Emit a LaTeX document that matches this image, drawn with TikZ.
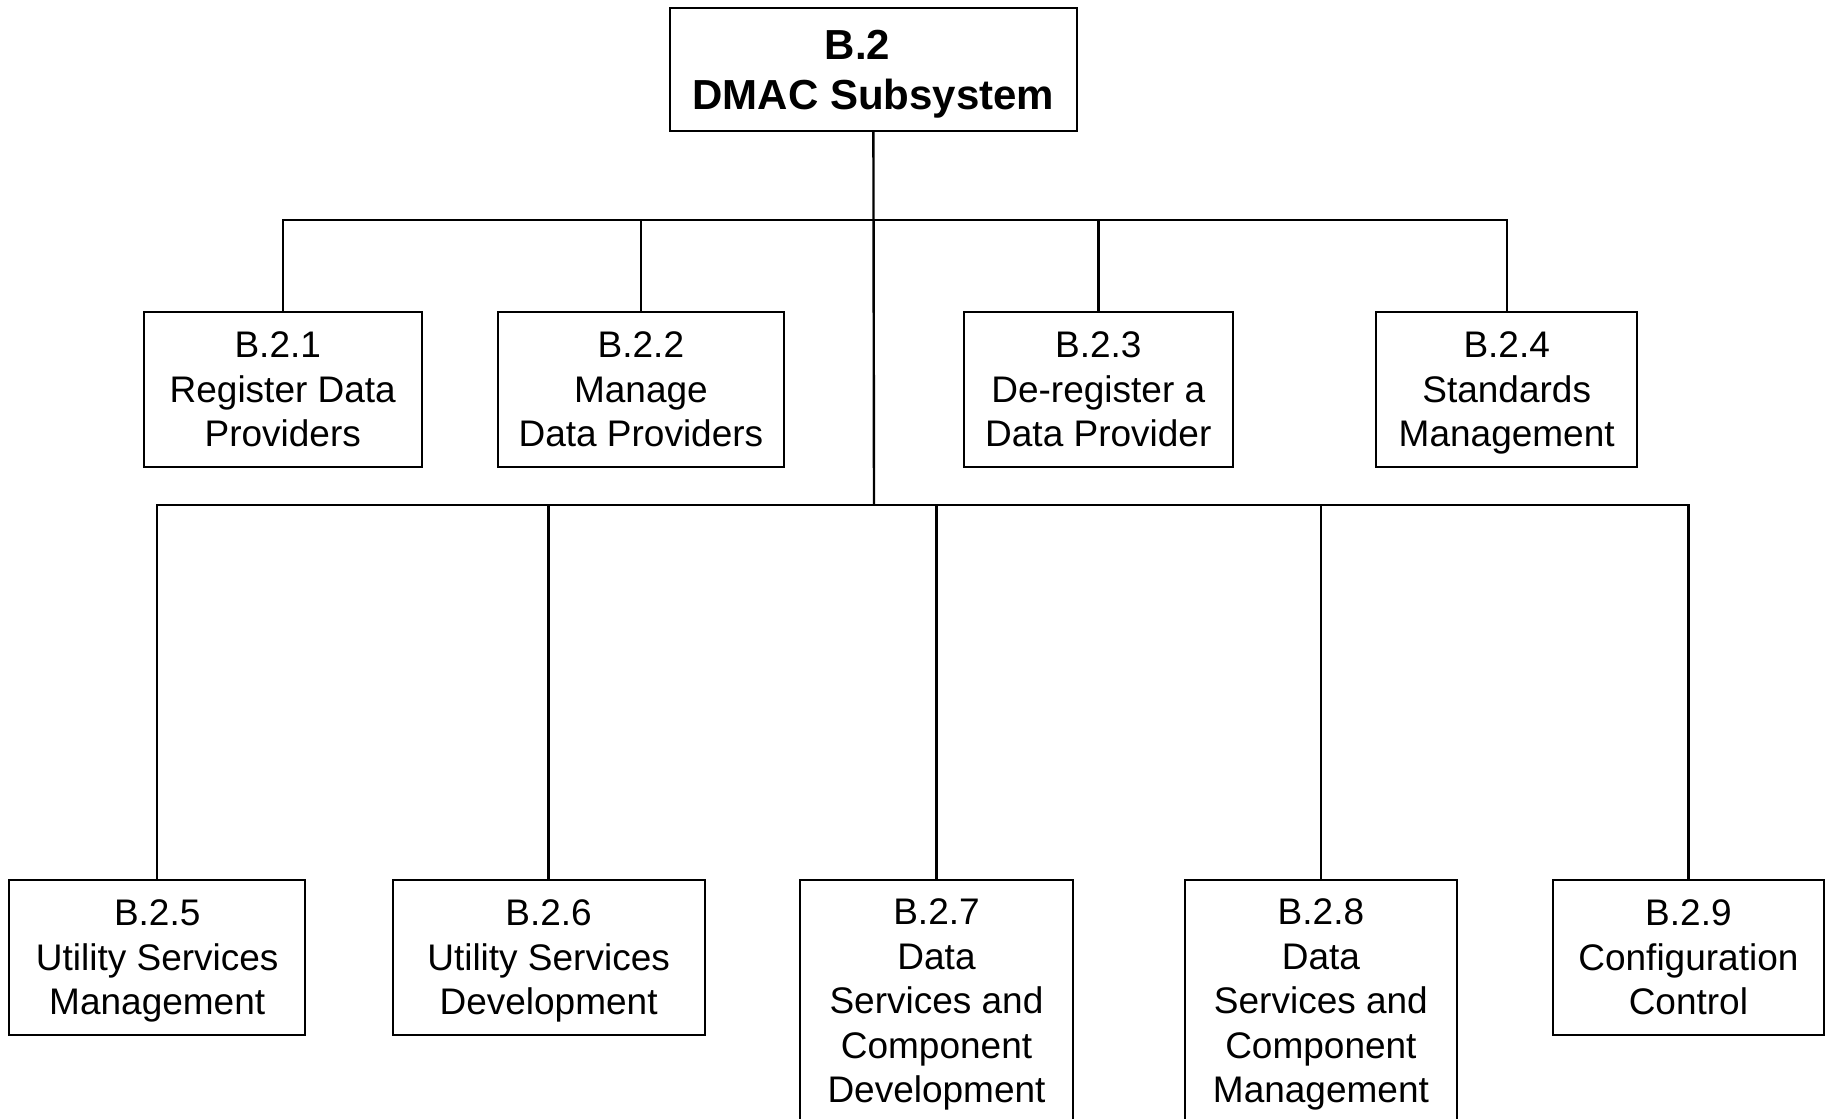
\documentclass[tikz,border=0pt]{standalone}
\usepackage{fontspec}
\setmainfont{Liberation Sans}
\begin{document}
\begin{tikzpicture}[x=1pt,y=-1pt,
  box/.style={draw, line width=2pt, anchor=north, align=center, inner xsep=0pt,
    inner ysep=19.45pt, text depth=0pt,
    font=\fontsize{37}{44.5}\selectfont},
  topbox/.style={draw, line width=2pt, anchor=north, align=center, inner sep=0pt,
    minimum width=407.8pt, minimum height=123pt, text depth=0pt,
    font=\fontsize{42}{50}\selectfont\bfseries},
  conn/.style={line width=2.4pt}]
\useasboundingbox (0,0) rectangle (1832,1119);
\clip (0,0) rectangle (1832,1119);
\node[topbox] (top) at (873.4,7) {B.2\hspace*{32pt}\\DMAC Subsystem};
\coordinate (bus1) at (874,219.7);
\coordinate (bus2) at (874,504.7);
% upper row
\node[box, minimum width=278.1pt, minimum height=155.4pt] (b1) at (282.75,310.8) {B.2.1\hspace*{10pt}\\Register Data\hspace*{10pt}\\Providers};
\node[box, minimum width=286.3pt, minimum height=155.4pt] (b2) at (640.9,310.8) {B.2.2\\Manage\hspace*{9pt}\\Data Providers};
\node[box, minimum width=268.6pt, minimum height=155.4pt] (b3) at (1098.3,310.8) {B.2.3\\De-register a\hspace*{9pt}\\Data Provider};
\node[box, minimum width=260.6pt, minimum height=155.4pt] (b4) at (1506.7,310.8) {B.2.4\\Standards\\Management};
% lower row
\node[box, minimum width=295.7pt, minimum height=155.4pt] (b5) at (157.2,878.6) {B.2.5\\Utility Services\hspace*{11pt}\\Management};
\node[box, minimum width=311.9pt, minimum height=155.4pt] (b6) at (548.6,878.6) {B.2.6\\Utility Services\\Development};
\node[box, minimum width=272.3pt] (b7) at (936.5,878.6) {B.2.7\\Data\\Services and\\Component\\Development};
\node[box, minimum width=272.2pt] (b8) at (1320.9,878.6) {B.2.8\\Data\\Services and\\Component\\Management};
\node[box, minimum width=271.1pt, minimum height=155.4pt] (b9) at (1688.4,878.6) {B.2.9\\Configuration\\Control};
% connectors
\draw[conn] (top.south) -- (bus2);
\foreach \n in {b1,b2,b3,b4} \draw[conn] (bus1) -| (\n.north);
\foreach \n in {b5,b6,b7,b8,b9} \draw[conn] (bus2) -| (\n.north);
\end{tikzpicture}
\end{document}
